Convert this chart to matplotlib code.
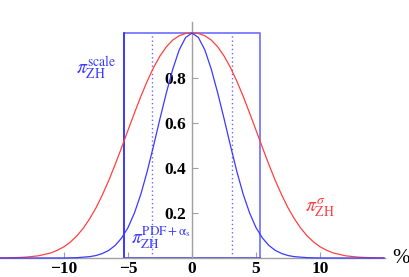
import numpy as np
import matplotlib.pyplot as plt

plt.rcParams['mathtext.fontset'] = 'stix'
plt.rcParams['font.family'] = ['Liberation Serif', 'DejaVu Serif']

# half-curves (x >= 0), the curves are symmetric around 0
x_red = [0, 0.5, 1, 1.5, 2, 2.5, 3, 3.5, 4, 4.5, 5, 5.5, 6, 6.5, 7, 7.5,
         8, 8.5, 9, 9.5, 10, 10.5, 11, 12, 13, 14, 15]
sigma_red = [1.0, 0.998, 0.988, 0.969, 0.939, 0.898, 0.847, 0.786, 0.718,
             0.644, 0.568, 0.491, 0.416, 0.345, 0.281, 0.223, 0.174, 0.132,
             0.098, 0.071, 0.050, 0.035, 0.023, 0.0097, 0.0037, 0.0012, 0.0004]

x_blue = [0, 0.5, 1, 1.5, 2, 2.5, 3, 3.5, 4, 4.5, 5, 5.5, 6, 6.5, 7, 7.5,
          8, 9, 10, 12, 15]
pdf_blue = [1.0, 0.980, 0.925, 0.840, 0.735, 0.620, 0.500, 0.385, 0.283,
            0.200, 0.135, 0.089, 0.056, 0.034, 0.020, 0.011, 0.006, 0.0015,
            0.0003, 0.0, 0.0]

scale_edges = [-5.3, 5.3]
scale_height = 1.0
dotted_pos = [-3.1, 3.1]

xticks = [-10, -5, 0, 5, 10]
xticklabels = ['\u221210', '\u22125', '0', '5', '10']
yticks = [0.2, 0.4, 0.6, 0.8]
yticklabels = ['0.2', '0.4', '0.6', '0.8']


def mirror(x, y):
    x = np.asarray(x, float)
    y = np.asarray(y, float)
    return np.concatenate([-x[:0:-1], x]), np.concatenate([y[:0:-1], y])


red = '#ff4040'
blue = '#3a3aff'

fig = plt.figure(figsize=(4.09, 2.77), dpi=100)
ax = fig.add_axes([0, 0, 1, 1])
ax.set_xlim(-15, 16.95)
ax.set_ylim(-0.0844, 1.1467)

xr, yr = mirror(x_red, sigma_red)
xb, yb = mirror(x_blue, pdf_blue)
ax.plot(xr, yr, color=red, lw=0.9, zorder=3)
ax.plot(xb, yb, color=blue, lw=0.9, zorder=3)

# scale box
ax.plot([scale_edges[0], scale_edges[0], scale_edges[1], scale_edges[1]],
        [0, scale_height, scale_height, 0], color='#7878ff', lw=1.3, zorder=2)
ax.plot([scale_edges[0], scale_edges[0]], [0, scale_height], color='#3030ff', lw=1.2, zorder=2)
ax.plot(scale_edges, [0, 0], color=blue, lw=1.2, zorder=2)
for p in dotted_pos:
    ax.plot([p, p], [0, scale_height], color='#6a6aff', lw=1.0, ls=(0, (1, 2)), zorder=2)

# axes through the origin, Mathematica style
for s in ['top', 'right']:
    ax.spines[s].set_visible(False)
ax.spines['left'].set_position(('data', 0))
ax.spines['bottom'].set_position(('data', 0))
ax.spines['left'].set_bounds(0, 1.05)
ax.spines['bottom'].set_bounds(-15, 15.1)
for s in ['left', 'bottom']:
    ax.spines[s].set_color('#a0a0a0')
    ax.spines[s].set_linewidth(1.0)
ax.set_xticks(xticks)
ax.set_xticklabels(xticklabels, fontweight='bold', fontsize=12.5)
ax.set_yticks(yticks)
ax.set_yticklabels(yticklabels, fontweight='bold', fontsize=12.5)
ax.tick_params(axis='both', direction='in', length=4, color='#a0a0a0', pad=2)
ax.tick_params(axis='y', pad=4)
ax.patch.set_visible(False)

ax.text(-7.5, 0.845, r'$\pi_{\rm ZH}^{\rm scale}$', color=blue, fontsize=14,
        ha='center', va='center')
ax.text(-2.4, 0.088, r'$\pi_{\rm ZH}^{\rm PDF+\alpha_s}$', color=blue, fontsize=13.5,
        ha='center', va='center')
ax.text(10.0, 0.225, r'$\pi_{\rm ZH}^{\sigma}$', color=red, fontsize=14,
        ha='center', va='center')
ax.text(16.3, 0.0, '%', fontsize=15, ha='center', va='center')

fig.savefig('out.png', dpi=100)
